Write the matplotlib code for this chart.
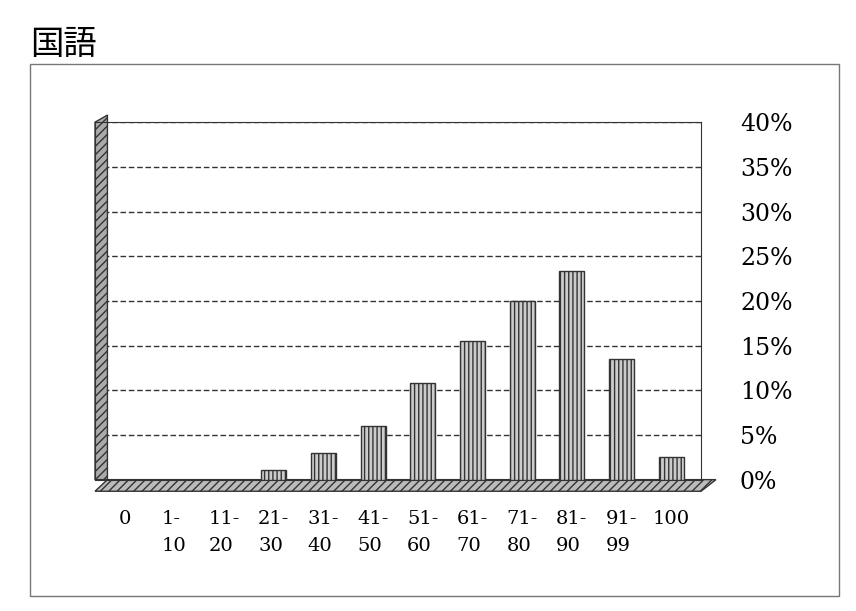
import matplotlib.pyplot as plt
from matplotlib.patches import Rectangle, Polygon

plt.rcParams['font.family'] = ['Noto Sans CJK JP', 'DejaVu Sans']

categories = ["0", "1-\n10", "11-\n20", "21-\n30", "31-\n40", "41-\n50",
              "51-\n60", "61-\n70", "71-\n80", "81-\n90", "91-\n99", "100"]
values = [0, 0, 0, 1.1, 3.0, 6.0, 10.8, 15.5, 20.0, 23.4, 13.5, 2.5]
yticks = [0, 5, 10, 15, 20, 25, 30, 35, 40]

fig = plt.figure(figsize=(8.56, 6.11), dpi=100)
fig.text(0.035, 0.955, "国語", fontsize=24, va="top")
fig.add_artist(Rectangle((0.035, 0.025), 0.945, 0.87, transform=fig.transFigure,
                         fill=False, edgecolor="#777777", lw=1))

ax = fig.add_axes([0.111, 0.215, 0.708, 0.585])
x = list(range(len(values)))
ax.set_xlim(-0.6, len(values) - 0.4)
ax.set_ylim(0, 40)
for t in yticks[1:]:
    ax.axhline(t, color="#333333", ls=(0, (4, 2)), lw=1, zorder=1)
# back wall left edge and floor
ax.add_patch(Polygon([(-0.6, 0), (-0.6, 40), (-0.35, 40.8), (-0.35, 0)], closed=True,
                     facecolor="#aaaaaa", edgecolor="#333333", hatch="////", lw=1,
                     zorder=2, clip_on=False))
ax.add_patch(Polygon([(-0.6, -1.3), (len(values) - 0.4, -1.3), (len(values) - 0.1, 0),
                      (-0.35, 0)], closed=True, facecolor="#bbbbbb", edgecolor="#333333",
                     hatch="////", lw=1, zorder=2, clip_on=False))
ax.bar(x, values, width=0.5, color="#cccccc", edgecolor="#333333", hatch="||||",
       lw=1, zorder=3, bottom=0)
ax.spines[:].set_color("#333333")
ax.yaxis.tick_right()
ax.set_yticks(yticks)
ax.set_yticklabels([f"{t}%" for t in yticks], fontsize=17, family=["DejaVu Serif"])
ax.tick_params(axis="y", length=0, pad=28)
ax.set_xticks(x)
ax.set_xticklabels(categories, fontsize=14, family=["DejaVu Serif"], linespacing=1.6, va="top")
ax.tick_params(axis="x", length=0, pad=22)
for lbl in ax.get_xticklabels():
    lbl.set_multialignment("left")

fig.savefig("out.png", dpi=100)
